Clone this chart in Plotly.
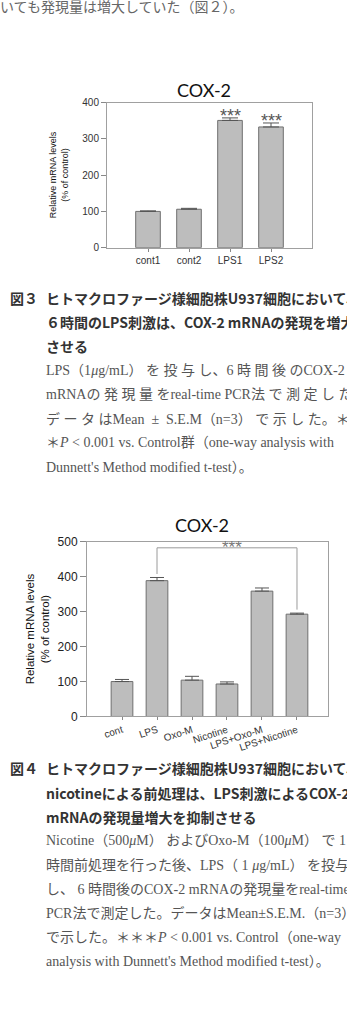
import plotly.graph_objects as go

W, H = 347, 1024

# ---------------- data ----------------
fig3_categories = ["cont1", "cont2", "LPS1", "LPS2"]
fig3_values = [100, 106, 351, 333]
fig3_errors = [1.5, 2.5, 7, 11]
fig3_sig = ["", "", "***", "***"]
fig3_yticks = [0, 100, 200, 300, 400]

fig4_categories = ["cont", "LPS", "Oxo-M", "Nicotine", "LPS+Oxo-M", "LPS+Nicotine"]
fig4_values = [100, 389, 104, 93, 359, 293]
fig4_errors = [6, 9, 11, 6, 9, 3]
fig4_yticks = [0, 100, 200, 300, 400, 500]
fig4_bracket_pair = ["LPS", "LPS+Nicotine"]
fig4_bracket_level = 483
fig4_bracket_label = "***"

chart_title = "COX-2"
ytitle_lines = ["Relative mRNA levels", "(% of control)"]

top_text = "いても発現量は増大していた（図２）。"
fig3_label = "図３"
fig3_caption_bold = [
    "ヒトマクロファージ様細胞株U937細胞において、",
    "６時間のLPS刺激は、COX-2 mRNAの発現を増大",
    "させる",
]
fig3_caption_body = [
    "LPS（1<i>μ</i>g/mL） を 投 与 し、6 時 間 後 のCOX-2",
    "mRNAの 発 現 量 をreal-time PCR法 で 測 定 し た。",
    "デ ー タ はMean  ±  S.E.M（n=3） で 示 し た。＊＊",
    "＊<i>P</i> < 0.001 vs. Control群（one-way analysis with",
    "Dunnett's Method modified t-test）。",
]
fig4_label = "図４"
fig4_caption_bold = [
    "ヒトマクロファージ様細胞株U937細胞において、",
    "nicotineによる前処理は、LPS刺激によるCOX-2",
    "mRNAの発現量増大を抑制させる",
]
fig4_caption_body = [
    "Nicotine（500<i>μ</i>M） およびOxo-M（100<i>μ</i>M） で 1",
    "時間前処理を行った後、LPS（ 1 <i>μ</i>g/mL） を投与",
    "し、 6 時間後のCOX-2 mRNAの発現量をreal-time",
    "PCR法で測定した。データはMean±S.E.M.（n=3）",
    "で示した。＊＊＊<i>P</i> < 0.001 vs. Control（one-way",
    "analysis with Dunnett's Method modified t-test）。",
]

# ---------------- helpers ----------------
def px(x):
    return x / W

def py(y):
    return 1 - y / H

GOTHIC = "Noto Sans CJK JP"
MINCHO = "Liberation Serif, Noto Sans CJK JP"
ARIAL = "Liberation Sans, Arial"
NARROW = "Liberation Sans Narrow, Liberation Sans, Arial"
TITLEF = "Lato, Open Sans, sans-serif"

BAR_FILL = "#bdbdbd"
BAR_LINE = "#6f6f6f"
AX_LINE = "#a0a0a0"

fig = go.Figure()

# chart 1 bars
fig.add_trace(go.Bar(
    x=fig3_categories, y=fig3_values, xaxis="x", yaxis="y",
    width=0.6,
    marker=dict(color=BAR_FILL, line=dict(color=BAR_LINE, width=1)),
    error_y=dict(type="data", array=fig3_errors, symmetric=False,
                 arrayminus=[0 for _ in fig3_errors],
                 color="#555555", thickness=1, width=8),
    hoverinfo="skip", showlegend=False,
))

# chart 2 bars
fig.add_trace(go.Bar(
    x=fig4_categories, y=fig4_values, xaxis="x2", yaxis="y2",
    width=0.62,
    marker=dict(color=BAR_FILL, line=dict(color=BAR_LINE, width=1)),
    error_y=dict(type="data", array=fig4_errors, symmetric=False,
                 arrayminus=[0 for _ in fig4_errors],
                 color="#555555", thickness=1, width=7),
    hoverinfo="skip", showlegend=False,
))

# chart 2 significance bracket
i1 = fig4_categories.index(fig4_bracket_pair[0])
i2 = fig4_categories.index(fig4_bracket_pair[1])
gap = 10
fig.add_trace(go.Scatter(
    x=[fig4_bracket_pair[0], fig4_bracket_pair[0], fig4_bracket_pair[1], fig4_bracket_pair[1]],
    y=[fig4_values[i1] + fig4_errors[i1] + gap, fig4_bracket_level,
       fig4_bracket_level, fig4_values[i2] + fig4_errors[i2] + gap],
    xaxis="x2", yaxis="y2", mode="lines",
    line=dict(color="#9a9a9a", width=1),
    hoverinfo="skip", showlegend=False,
))

common_x = dict(type="category", showline=True, linecolor=AX_LINE, linewidth=1,
                mirror=True, ticks="outside", ticklen=3, tickcolor="#888888",
                showgrid=False, zeroline=False, fixedrange=True)
common_y = dict(showline=True, linecolor=AX_LINE, linewidth=1, mirror=True,
                ticks="outside", tickcolor="#888888", showgrid=False,
                zeroline=False, fixedrange=True)

fig.update_layout(
    width=W, height=H,
    margin=dict(l=0, r=0, t=0, b=0),
    paper_bgcolor="white", plot_bgcolor="white",
    xaxis=dict(common_x, domain=[px(107), px(312)], anchor="y",
               categoryorder="array", categoryarray=fig3_categories,
               range=[-1, 4],
               tickfont=dict(family=ARIAL, size=10, color="#333333")),
    yaxis=dict(common_y, domain=[py(244), py(97)], anchor="x",
               range=[0, 400], tickvals=fig3_yticks, ticklen=5,
               tickfont=dict(family=ARIAL, size=10, color="#333333")),
    xaxis2=dict(common_x, domain=[px(87), px(328)], anchor="y2",
                categoryorder="array", categoryarray=fig4_categories,
                range=[-1, 5.886], tickangle=-18,
                tickfont=dict(family=ARIAL, size=10, color="#333333")),
    yaxis2=dict(common_y, domain=[py(719.3), py(542.3)], anchor="x2",
                range=[0, 500], tickvals=fig4_yticks, ticklen=6,
                tickfont=dict(family=ARIAL, size=12, color="#222222")),
)

ann = []
# stars chart 1
for c, v, e, s in zip(fig3_categories, fig3_values, fig3_errors, fig3_sig):
    if s:
        ann.append(dict(x=c, y=v + e, xref="x", yref="y", text=s, showarrow=False,
                        yanchor="middle", yshift=2,
                        font=dict(family=ARIAL, size=18, color="#555555")))
# stars chart 2
ann.append(dict(x=(i1 + i2) / 2, y=fig4_bracket_level, xref="x2", yref="y2",
                text=fig4_bracket_label, showarrow=False, xshift=5, yshift=0,
                yanchor="middle",
                font=dict(family=ARIAL, size=17, color="#777777")))
# titles
ann.append(dict(x=px(204), y=py(84), xref="paper", yref="paper", text=chart_title,
                showarrow=False, xanchor="center", yanchor="middle",
                font=dict(family=TITLEF, size=18, color="#111111")))
ann.append(dict(x=px(202), y=py(525), xref="paper", yref="paper", text=chart_title,
                showarrow=False, xanchor="center", yanchor="middle",
                font=dict(family=TITLEF, size=18, color="#111111")))
# y titles
ann.append(dict(x=px(59), y=py(170.5), xref="paper", yref="paper",
                text="<br>".join(ytitle_lines), textangle=-90, showarrow=False,
                xanchor="center", yanchor="middle",
                font=dict(family=NARROW, size=9, color="#111111")))
ann.append(dict(x=px(37), y=py(631), xref="paper", yref="paper",
                text="<br>".join(ytitle_lines), textangle=-90, showarrow=False,
                xanchor="center", yanchor="middle",
                font=dict(family=NARROW, size=11.5, color="#111111")))

def text_line(txt, x, y, family, color, bold=False, size=14):
    return dict(x=px(x), y=py(y), xref="paper", yref="paper",
                text=("<b>%s</b>" % txt) if bold else txt, showarrow=False,
                xanchor="left", yanchor="middle", align="left",
                font=dict(family=family, size=size, color=color))

ann.append(text_line(top_text, -2, 1, MINCHO, "#666666"))

STEP = 24.5
# figure 3 caption
ann.append(text_line(fig3_label, 8, 295, GOTHIC, "#333333", bold=True))
y0 = 295
lines = [(t, True) for t in fig3_caption_bold] + [(t, False) for t in fig3_caption_body]
for k, (t, b) in enumerate(lines):
    ann.append(text_line(t, 44, y0 + k * STEP, GOTHIC if b else MINCHO,
                         "#333333" if b else "#555555", bold=b))

# figure 4 caption
ann.append(text_line(fig4_label, 8, 772, GOTHIC, "#333333", bold=True))
y0 = 772
lines = [(t, True) for t in fig4_caption_bold] + [(t, False) for t in fig4_caption_body]
for k, (t, b) in enumerate(lines):
    ann.append(text_line(t, 44, y0 + k * STEP, GOTHIC if b else MINCHO,
                         "#333333" if b else "#555555", bold=b))

fig.update_layout(annotations=ann)

fig.write_html("out.html", config={"displayModeBar": False, "staticPlot": True})
